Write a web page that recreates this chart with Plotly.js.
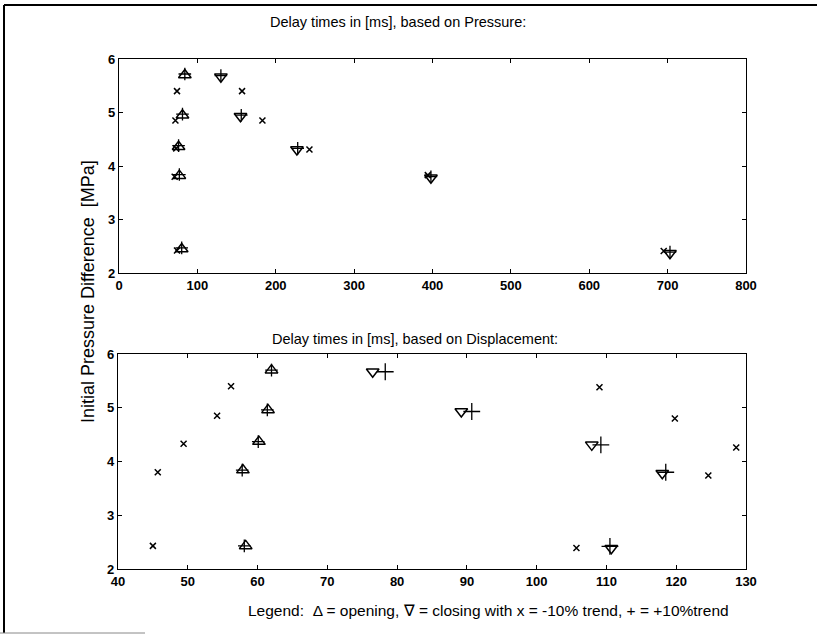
<!DOCTYPE html>
<html>
<head>
<meta charset="utf-8">
<script src="https://cdn.plot.ly/plotly-3.0.1.min.js"></script>
<style>html,body{margin:0;padding:0;background:#fff;}#chart{width:817px;height:641px;}</style>
</head>
<body>
<div id="chart"></div>
<script>
// ---- data: pressure-based delay times [ms] ----
const pOpenX = [84, 81, 76, 77, 80];
const pOpenY = [5.70, 4.95, 4.36, 3.82, 2.45];
const pOpenPlusX = [84, 81, 76, 77, 80];
const pOpenPlusY = [5.72, 4.97, 4.38, 3.84, 2.47];
const pOpenMinusX = [74, 72, 73, 71, 74];
const pOpenMinusY = [5.40, 4.85, 4.33, 3.80, 2.42];
const pCloseX = [130, 155, 227, 398, 703];
const pCloseY = [5.67, 4.93, 4.31, 3.78, 2.37];
const pClosePlusX = [130, 156, 228, 398, 703];
const pClosePlusY = [5.69, 4.95, 4.33, 3.80, 2.39];
const pCloseMinusX = [157, 183, 243, 394, 695];
const pCloseMinusY = [5.40, 4.85, 4.31, 3.83, 2.41];

// ---- data: displacement-based delay times [ms] ----
const dOpenX = [62.0, 61.5, 60.2, 57.9, 58.3];
const dOpenY = [5.70, 4.96, 4.37, 3.84, 2.43];
const dOpenPlusX = [62.0, 61.4, 60.1, 57.8, 58.1];
const dOpenPlusY = [5.70, 4.96, 4.37, 3.84, 2.43];
const dOpenMinusX = [56.2, 54.2, 49.4, 45.7, 45.0];
const dOpenMinusY = [5.40, 4.85, 4.33, 3.80, 2.43];
const dCloseX = [76.5, 89.2, 107.9, 118.0, 110.7];
const dCloseY = [5.67, 4.93, 4.31, 3.78, 2.385];
const dClosePlusX = [78.3, 90.7, 109.2, 118.5, 110.5];
const dClosePlusY = [5.67, 4.93, 4.31, 3.80, 2.42];
const dCloseMinusX = [109.0, 119.8, 128.6, 124.6, 105.7];
const dCloseMinusY = [5.38, 4.80, 4.26, 3.74, 2.39];

const titleTop = 'Delay times in [ms], based on Pressure:';
const titleBottom = 'Delay times in [ms], based on Displacement:';
const yTitle = 'Initial Pressure Difference  [MPa]';
const legendText = 'Legend:  \u0394 = opening, \u2207 = closing with x = -10% trend, + = +10%trend';
const pTicks = [0, 100, 200, 300, 400, 500, 600, 700, 800];
const dTicks = [40, 50, 60, 70, 80, 90, 100, 110, 120, 130];
const yTicks = [2, 3, 4, 5, 6];

const W = 817, H = 641;
const FONT = 'Liberation Sans, Arial, sans-serif';

function tri(x, y, sym, xa, ya) {
  return {x: x, y: y, xaxis: xa, yaxis: ya, mode: 'markers', type: 'scatter', showlegend: false,
    marker: {symbol: sym, size: 11, color: '#000', line: {color: '#000', width: 1.5}}};
}
function cross(x, y, xa, ya, s) {
  return {x: x, y: y, xaxis: xa, yaxis: ya, mode: 'markers', type: 'scatter', showlegend: false,
    marker: {symbol: 'cross-thin-open', size: s, color: '#000', line: {color: '#000', width: 1.3}}};
}
function xm(x, y, xa, ya) {
  return {x: x, y: y, xaxis: xa, yaxis: ya, mode: 'markers', type: 'scatter', showlegend: false,
    marker: {symbol: 'x-thin-open', size: 6, color: '#000', line: {color: '#000', width: 1.5}}};
}

const data = [
  tri(pOpenX, pOpenY, 'triangle-up-open', 'x', 'y'),
  cross(pOpenPlusX, pOpenPlusY, 'x', 'y', 9),
  xm(pOpenMinusX, pOpenMinusY, 'x', 'y'),
  tri(pCloseX, pCloseY, 'triangle-down-open', 'x', 'y'),
  cross(pClosePlusX, pClosePlusY, 'x', 'y', 9),
  xm(pCloseMinusX, pCloseMinusY, 'x', 'y'),
  tri(dOpenX, dOpenY, 'triangle-up-open', 'x2', 'y2'),
  cross(dOpenPlusX, dOpenPlusY, 'x2', 'y2', 9),
  xm(dOpenMinusX, dOpenMinusY, 'x2', 'y2'),
  tri(dCloseX, dCloseY, 'triangle-down-open', 'x2', 'y2'),
  cross(dClosePlusX, dClosePlusY, 'x2', 'y2', 12),
  xm(dCloseMinusX, dCloseMinusY, 'x2', 'y2')
];

const tickFont = {family: FONT, size: 13, color: '#000', weight: 'bold'};
function ax(extra) {
  return Object.assign({
    showline: true, linecolor: '#000', linewidth: 1.2, mirror: 'ticks',
    ticks: 'inside', ticklen: 4, tickwidth: 1, tickcolor: '#000',
    showgrid: false, zeroline: false, tickfont: tickFont, fixedrange: true
  }, extra);
}

const layout = {
  width: W, height: H,
  margin: {l: 0, r: 0, t: 0, b: 0},
  paper_bgcolor: '#fff', plot_bgcolor: '#fff',
  showlegend: false,
  xaxis: ax({domain: [119 / W, 746 / W], range: [0, 800], tickvals: pTicks, anchor: 'y'}),
  yaxis: ax({domain: [1 - 273 / H, 1 - 59 / H], range: [2, 6], tickvals: yTicks, anchor: 'x'}),
  xaxis2: ax({domain: [118 / W, 746 / W], range: [40, 130], tickvals: dTicks, anchor: 'y2'}),
  yaxis2: ax({domain: [1 - 569 / H, 1 - 354 / H], range: [2, 6], tickvals: yTicks, anchor: 'x2'}),
  annotations: [
    {text: titleTop, xref: 'paper', yref: 'paper', x: 398 / W, y: 1 - 22 / H, showarrow: false,
     xanchor: 'center', yanchor: 'middle', font: {family: FONT, size: 14.5, color: '#000'}},
    {text: titleBottom, xref: 'paper', yref: 'paper', x: 415 / W, y: 1 - 339 / H, showarrow: false,
     xanchor: 'center', yanchor: 'middle', font: {family: FONT, size: 14.5, color: '#000'}},
    {text: yTitle, xref: 'paper', yref: 'paper', x: 88 / W, y: 1 - 292 / H, showarrow: false,
     textangle: -90, xanchor: 'center', yanchor: 'middle', font: {family: FONT, size: 18, color: '#000'}},
    {text: legendText, xref: 'paper', yref: 'paper', x: 488 / W, y: 1 - 610 / H, showarrow: false,
     xanchor: 'center', yanchor: 'middle', font: {family: FONT, size: 15.5, color: '#000'}}
  ],
  shapes: [
    {type: 'line', xref: 'paper', yref: 'paper', x0: 4 / W, x1: 4 / W, y0: 1 - 633 / H, y1: 1 - 5 / H, line: {color: '#000', width: 2}},
    {type: 'line', xref: 'paper', yref: 'paper', x0: 4 / W, x1: 1, y0: 1 - 5 / H, y1: 1 - 5 / H, line: {color: '#000', width: 2}},
    {type: 'line', xref: 'paper', yref: 'paper', x0: 0, x1: 145 / W, y0: 1 - 633 / H, y1: 1 - 633 / H, line: {color: '#888', width: 1}}
  ]
};

Plotly.newPlot('chart', data, layout, {staticPlot: true, displayModeBar: false});
</script>
</body>
</html>
